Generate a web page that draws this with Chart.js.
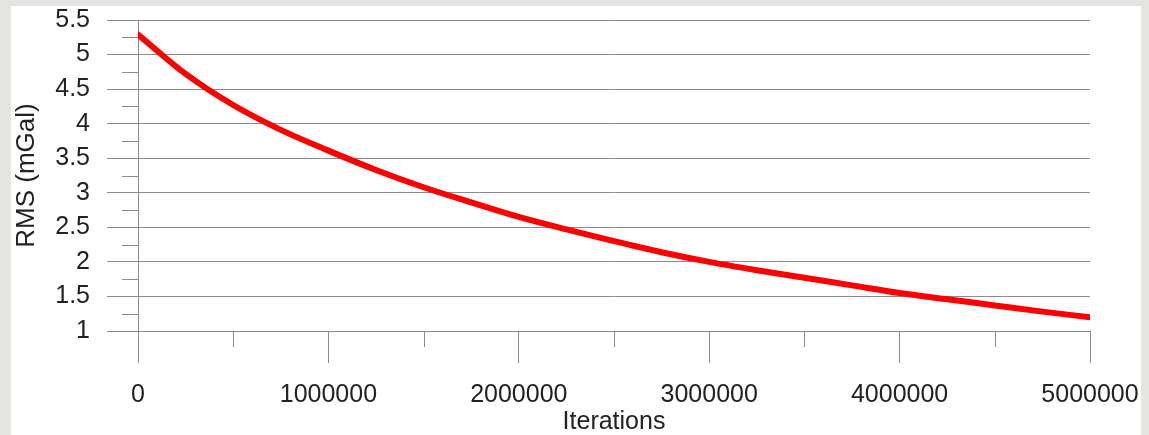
<!DOCTYPE html>
<html>
<head>
<meta charset="utf-8">
<script src="https://cdn.jsdelivr.net/npm/chart.js@4/dist/chart.umd.min.js"></script>
<style>
  html, body { margin: 0; padding: 0; background: #e4e4e1; width: 1149px; height: 435px; overflow: hidden; }
  #panel { position: absolute; left: 11px; top: 6px; width: 1130px; height: 429px; background: #ffffff; }
  #myChart { position: absolute; left: 0; top: 0; }
</style>
</head>
<body>
<div id="panel"></div>
<canvas id="myChart" width="1149" height="435"></canvas>
<script>
// RMS misfit against iteration count
const iterations = [0, 250000, 500000, 750000, 1000000, 1250000, 1500000, 1750000, 2000000,
    2250000, 2500000, 2750000, 3000000, 3250000, 3500000, 3750000, 4000000, 4250000,
    4500000, 4750000, 5000000];
const rms = [5.29, 4.72, 4.27, 3.91, 3.61, 3.33, 3.08, 2.86, 2.65,
    2.47, 2.30, 2.14, 2.00, 1.88, 1.77, 1.66, 1.55, 1.46,
    1.37, 1.28, 1.20];

const xTickLabels = ['0', '1000000', '2000000', '3000000', '4000000', '5000000'];
const yTickLabels = ['1', '1.5', '2', '2.5', '3', '3.5', '4', '4.5', '5', '5.5'];
const xMinorTicks = [500000, 1500000, 2500000, 3500000, 4500000];
const yMinorTicks = [1.25, 1.75, 2.25, 2.75, 3.25, 3.75, 4.25, 4.75, 5.25];

const axisGray = '#8c8c8c';
const textColor = '#222222';
const fontFamily = '"Liberation Sans", Arial, sans-serif';

// short ticks between the labelled ones
const minorTicks = {
    id: 'minorTicks',
    afterDraw(chart) {
        const ctx = chart.ctx;
        const area = chart.chartArea;
        const xs = chart.scales.x;
        const ys = chart.scales.y;
        ctx.save();
        ctx.strokeStyle = axisGray;
        ctx.lineWidth = 1;
        ctx.beginPath();
        yMinorTicks.forEach((v) => {
            const py = Math.round(ys.getPixelForValue(v)) + 0.5;
            ctx.moveTo(area.left - 16, py);
            ctx.lineTo(area.left, py);
        });
        xMinorTicks.forEach((v) => {
            const px = Math.round(xs.getPixelForValue(v)) + 0.5;
            ctx.moveTo(px, area.bottom);
            ctx.lineTo(px, area.bottom + 16);
        });
        ctx.stroke();
        ctx.restore();
    }
};

const ctx = document.getElementById('myChart').getContext('2d');
const myChart = new Chart(ctx, {
    type: 'line',
    data: {
        datasets: [{
            data: iterations.map((x, i) => ({ x: x, y: rms[i] })),
            borderColor: '#ff0000',
            borderWidth: 6,
            borderCapStyle: 'round',
            pointRadius: 0,
            cubicInterpolationMode: 'monotone',
            fill: false
        }]
    },
    options: {
        responsive: false,
        animation: false,
        devicePixelRatio: 1,
        layout: {
            padding: { left: 11, top: 20, right: 59, bottom: 0 }
        },
        plugins: {
            legend: { display: false },
            tooltip: { enabled: false }
        },
        scales: {
            x: {
                type: 'linear',
                min: 0,
                max: 5000000,
                afterFit: (scale) => {
                    scale.height = 104;
                    scale.paddingLeft = 0;
                    scale.paddingRight = 0;
                },
                grid: {
                    drawOnChartArea: false,
                    color: axisGray,
                    tickColor: axisGray,
                    tickLength: 32
                },
                border: { display: true, color: axisGray },
                ticks: {
                    stepSize: 1000000,
                    padding: 17,
                    maxRotation: 0,
                    color: textColor,
                    font: { family: fontFamily, size: 25 },
                    callback: (value, index) => xTickLabels[index]
                },
                title: {
                    display: true,
                    text: 'Iterations',
                    color: textColor,
                    font: { family: fontFamily, size: 25, lineHeight: 1 },
                    padding: { top: 0, bottom: 0 }
                }
            },
            y: {
                min: 1,
                max: 5.5,
                afterFit: (scale) => {
                    scale.width = 127;
                    scale.paddingTop = 0;
                    scale.paddingBottom = 0;
                },
                grid: {
                    color: axisGray,
                    tickColor: axisGray,
                    tickLength: 31
                },
                border: { display: true, color: axisGray },
                ticks: {
                    stepSize: 0.5,
                    padding: 17,
                    color: textColor,
                    font: { family: fontFamily, size: 25 },
                    callback: (value, index) => yTickLabels[index]
                },
                title: {
                    display: true,
                    text: 'RMS (mGal)',
                    color: textColor,
                    font: { family: fontFamily, size: 26 },
                    padding: { top: 0, bottom: 0 }
                }
            }
        }
    },
    plugins: [minorTicks]
});
</script>
</body>
</html>
